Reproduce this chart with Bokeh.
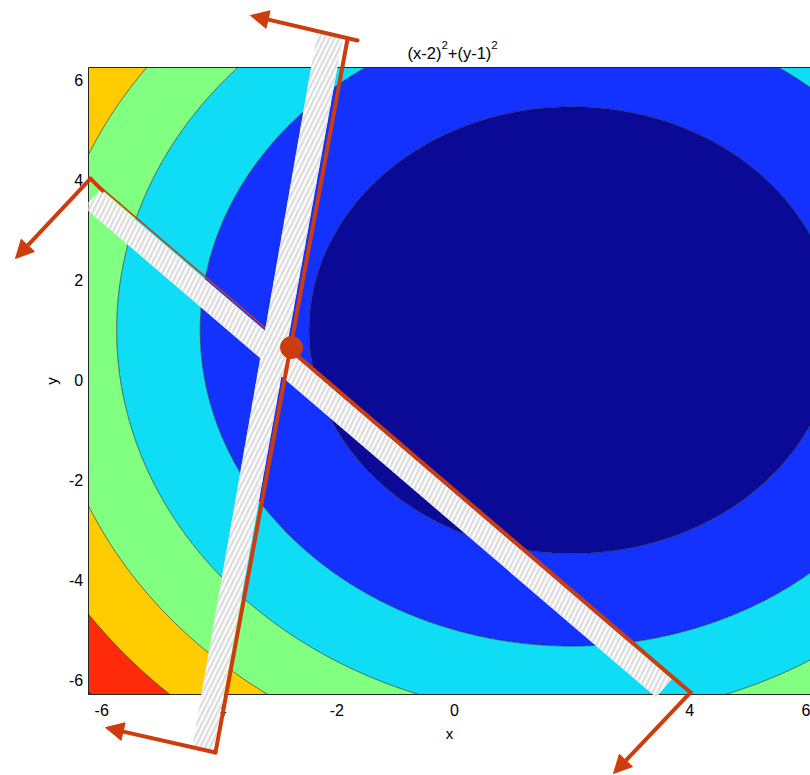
import numpy as np
from bokeh.plotting import figure
from bokeh.models import (Range1d, FixedTicker, LinearAxis, Label, Arrow, NormalHead,
                          PolyAnnotation, ColumnDataSource)
from bokeh.embed import file_html
from bokeh.resources import INLINE

# ---- data ---------------------------------------------------------------
title_parts = ["(x-2)", "2", "+(y-1)", "2"]
title_is_sup = [False, True, False, True]
center = [2.0, 1.0]                       # f = (x-2)^2 + (y-1)^2
levels = [0, 20, 40, 60, 80, 100, 120, 130]
level_colors = ["#0A0A96", "#1432FF", "#0FDCF5", "#80FF80", "#FFCC00", "#FF2A0A", "#800000"]

# axes box of the contour plot
x_lim = [-6.23, 6.30]
y_lim = [-6.30, 6.26]
x_ticks = [-6, -4, -2, 0, 4, 6]
y_ticks = [-6, -4, -2, 0, 2, 4, 6]

# constraint 1: red boundary line and hatched band
line1_x = [-6.190, 4.014]
line1_y = [4.035, -6.255]
line1_cap_x = [-6.190, -5.986]
line1_cap_y = [4.035, 3.795]
line1_thick_x = [-2.772, 4.014]
line1_thick_y = [0.588, -6.255]
band1_x = [-6.019, 3.694, 3.429, -6.224, -6.224]
band1_y = [3.811, -5.985, -6.352, 3.386, 3.556]

# constraint 2
line2_x = [-1.820, -4.065]
line2_y = [6.821, -7.457]
band2_x = [-2.338, -1.896, -4.099, -4.456]
band2_y = [6.940, 6.881, -7.437, -7.317]

# direction arrows (start -> tip)
arrow_x0 = [-6.190, 4.014, -1.650, -4.065]
arrow_y0 = [4.035, -6.255, 6.800, -7.457]
arrow_x1 = [-7.466, 2.704, -3.469, -5.935]
arrow_y1 = [2.435, -7.877, 7.301, -6.958]

# optimum point
opt_x = [-2.772]
opt_y = [0.653]

RED = "#CD3C0C"
FONT = "Liberation Sans"
EDGE = "#262626"

# ---- figure: the frame covers the whole canvas so the annotations can
# reach outside the axes box ---------------------------------------------
p = figure(width=810, height=775,
           x_range=Range1d(-7.721, 6.054), y_range=Range1d(-7.917, 7.601),
           output_backend="svg", toolbar_location=None,
           min_border_left=0, min_border_right=0, min_border_top=0, min_border_bottom=0,
           x_axis_label="x", y_axis_label="y")
p.grid.visible = False
p.outline_line_color = None
p.background_fill_color = "white"
p.border_fill_color = "white"

gx = np.linspace(x_lim[0], x_lim[1], 321)
gy = np.linspace(y_lim[0], y_lim[1], 321)
GX, GY = np.meshgrid(gx, gy)
GZ = (GX - center[0]) ** 2 + (GY - center[1]) ** 2
p.contour(x=gx, y=gy, z=GZ, levels=levels, fill_color=level_colors,
          line_color="#1a1a1a", line_width=0.6)

xa = p.xaxis[0]
ya = p.yaxis[0]
xa.ticker = FixedTicker(ticks=x_ticks)
ya.ticker = FixedTicker(ticks=y_ticks)
xa.major_label_overrides = {t: str(t) for t in x_ticks}
ya.major_label_overrides = {t: str(t) for t in y_ticks}
xa.fixed_location = y_lim[0]
ya.fixed_location = x_lim[0]
xa.bounds = (x_lim[0], x_lim[1])
ya.bounds = (y_lim[0], y_lim[1])
for ax in (xa, ya):
    ax.major_tick_in = 0
    ax.major_tick_out = 0
    ax.minor_tick_line_color = None
    ax.axis_line_color = EDGE
    ax.major_label_text_font = FONT
    ax.major_label_text_font_size = "16px"
    ax.major_label_text_color = "black"
    ax.axis_label_text_font = FONT
    ax.axis_label_text_font_size = "15px"
    ax.axis_label_text_font_style = "normal"
    ax.axis_label_text_color = "black"
xa.major_label_standoff = 9
xa.axis_label_standoff = 6
ya.major_label_standoff = 5
ya.axis_label_standoff = 6

top_axis = LinearAxis(ticker=FixedTicker(ticks=[]), major_label_text_font_size="0px",
                      axis_line_color=EDGE, major_tick_out=0, minor_tick_out=0,
                      fixed_location=y_lim[1], bounds=(x_lim[0], x_lim[1]))
p.add_layout(top_axis, "above")

# title "(x-2)^2+(y-1)^2" with real superscripts
ARIAL_W = {"(": 0.333, ")": 0.333, "x": 0.5, "y": 0.5, "-": 0.333, "+": 0.584,
           "1": 0.556, "2": 0.556}
main_size, sup_size = 16.5, 11.5
offset = 0.0
for part, sup in zip(title_parts, title_is_sup):
    size = sup_size if sup else main_size
    p.add_layout(Label(x=-0.80, y=6.54, x_offset=offset, y_offset=8 if sup else 0,
                       text=part, text_align="left", text_baseline="alphabetic",
                       text_font=FONT, text_font_size=f"{size}px", text_color="black"))
    offset += sum(ARIAL_W.get(c, 0.55) for c in part) * size

def band(xs, ys):
    return PolyAnnotation(xs=xs, ys=ys, fill_color="white", fill_alpha=1.0,
                          line_color=None, hatch_pattern="/", hatch_color="#dedede",
                          hatch_scale=10, hatch_weight=2.5)

def seg(xs, ys, w):
    return Arrow(x_start=xs[0], y_start=ys[0], x_end=xs[1], y_end=ys[1], end=None,
                 line_color=RED, line_width=w, line_cap="round")

def heads(idx):
    src = ColumnDataSource(dict(x0=[arrow_x0[i] for i in idx], y0=[arrow_y0[i] for i in idx],
                                x1=[arrow_x1[i] for i in idx], y1=[arrow_y1[i] for i in idx]))
    return Arrow(source=src, x_start="x0", y_start="y0", x_end="x1", y_end="y1",
                 end=NormalHead(size=18, fill_color=RED, line_color=RED),
                 line_color=RED, line_width=4, line_cap="round")

# constraint 1
p.add_layout(band(band1_x, band1_y))
p.add_layout(seg(line1_x, line1_y, 1.5))
p.add_layout(seg(line1_cap_x, line1_cap_y, 4))
p.add_layout(seg(line1_thick_x, line1_thick_y, 4))
p.add_layout(heads([0, 1]))
# constraint 2
p.add_layout(band(band2_x, band2_y))
p.add_layout(seg(line2_x, line2_y, 4))
p.add_layout(heads([2, 3]))

dot = p.scatter(opt_x, opt_y, size=22, fill_color=RED, line_color=RED)
dot.level = "overlay"

open("out.html", "w").write(file_html(p, INLINE))
